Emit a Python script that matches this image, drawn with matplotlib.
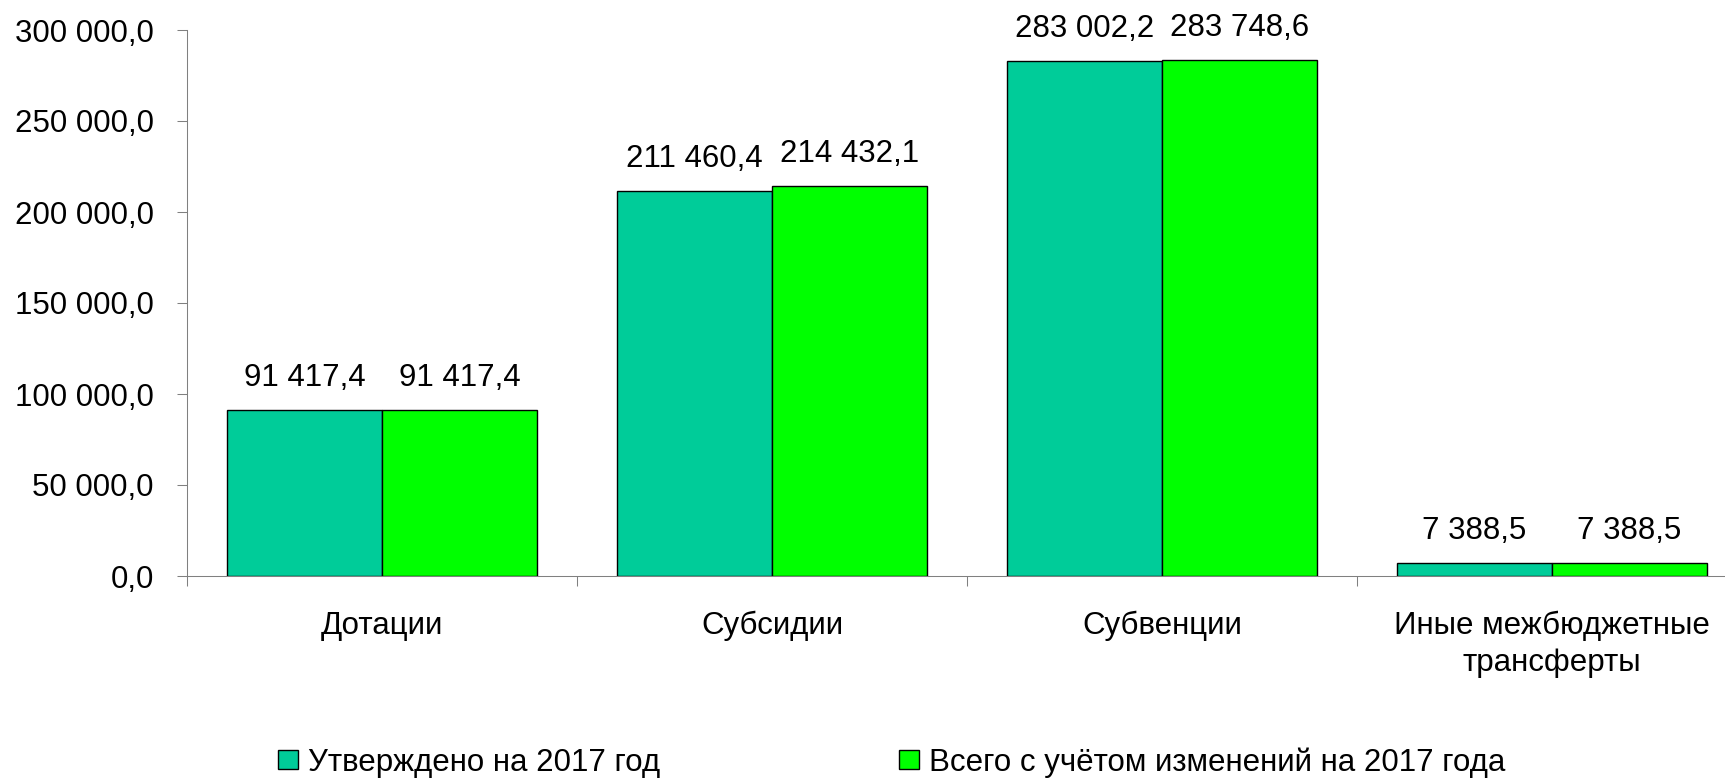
import matplotlib
matplotlib.use("Agg")
import matplotlib.pyplot as plt
import numpy as np

plt.rcParams['font.family'] = ['Liberation Sans', 'DejaVu Sans']

categories = ['Дотации', 'Субсидии', 'Субвенции', 'Иные межбюджетные\nтрансферты']
approved = [91417.4, 211460.4, 283002.2, 7388.5]
with_changes = [91417.4, 214432.1, 283748.6, 7388.5]
series_names = ['Утверждено на 2017 год', 'Всего с учётом изменений на 2017 года']
y_ticks = [0, 50000, 100000, 150000, 200000, 250000, 300000]

colors = ['#00CC99', '#00FF00']
FS = 22.5


def fmt(v):
    return f'{v:,.1f}'.replace(',', ' ').replace('.', ',')


W, H = 1725, 779
fig = plt.figure(figsize=(W / 100, H / 100), dpi=100, facecolor='white')
left, right, top, bottom = 187, 1725, 30, 576
ax = fig.add_axes([left / W, 1 - bottom / H, (right - left) / W, (bottom - top) / H])

group_w = 390.0
x = np.arange(len(categories)) + 0.5
bw = 155 / group_w

b1 = ax.bar(x - bw / 2, approved, width=bw, color=colors[0], edgecolor='black',
            linewidth=1.0, label=series_names[0], zorder=3)
b2 = ax.bar(x + bw / 2, with_changes, width=bw, color=colors[1], edgecolor='black',
            linewidth=1.0, label=series_names[1], zorder=3)

for bars, vals in ((b1, approved), (b2, with_changes)):
    ax.bar_label(bars, labels=[fmt(v) for v in vals], padding=12, fontsize=FS)

ax.set_xlim(0, (right - left) / group_w)
ax.set_ylim(0, 300000)

ax.set_yticks(y_ticks)
ax.set_yticklabels([fmt(v) for v in y_ticks], fontsize=FS)

# boundaries get tick marks, category names sit in the middle without ticks
ax.set_xticks(np.arange(len(categories)))
ax.set_xticklabels([])
ax.set_xticks(x, minor=True)
ax.set_xticklabels(categories, minor=True, fontsize=FS, linespacing=1.32)
ax.tick_params(axis='x', which='major', direction='out', length=7, width=0.75, color='#808080')
ax.tick_params(axis='x', which='minor', length=0, pad=25)
ax.tick_params(axis='y', direction='out', length=7, width=0.75, color='#808080', pad=17)

for s in ('top', 'right'):
    ax.spines[s].set_visible(False)
for s in ('left', 'bottom'):
    ax.spines[s].set_color('#808080')
    ax.spines[s].set_linewidth(0.75)

fig.legend(loc='upper left', bbox_to_anchor=(278 / W, 1 - 747 / H), ncol=2, frameon=False,
           fontsize=FS, handlelength=0.65, handleheight=0.6, handletextpad=0.3,
           columnspacing=7.65, borderpad=0, borderaxespad=0)

fig.savefig('out.png', dpi=100, facecolor='white')
